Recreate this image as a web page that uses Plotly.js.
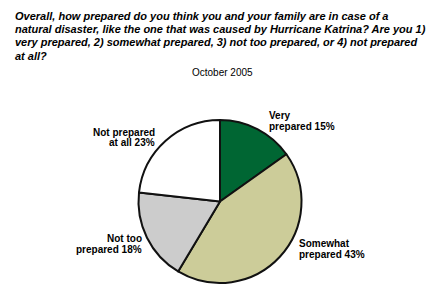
<!DOCTYPE html>
<html><head><meta charset="utf-8">
<script src="https://cdn.plot.ly/plotly-3.0.1.min.js"></script>
<style>html,body{margin:0;padding:0;background:#fff}</style>
</head><body><div id="chart" style="width:440px;height:293px"></div>
<script>
const categories = ["Very prepared", "Somewhat prepared", "Not too prepared", "Not prepared at all"];
const values = [15, 43, 18, 23];
const labelLines = [["Very", "prepared 15%"], ["Somewhat", "prepared 43%"], ["Not too", "prepared 18%"], ["Not prepared", "at all 23%"]];
const colors = ["#006633", "#CCCC99", "#CCCCCC", "#FFFFFF"];
const titleLines = [
  "Overall, how prepared do you think you and your family are in case of a",
  "natural disaster, like the one that was caused by Hurricane Katrina? Are you 1)",
  "very prepared, 2) somewhat prepared, 3) not too prepared, or 4) not prepared",
  "at all?"
];
const subtitle = "October 2005";

const W = 440, H = 293;
const px = x => x / W, py = y => 1 - y / H;
const F = "Liberation Sans, Arial, sans-serif";

const labelPos = [
  {x: 267, y: 115.5, anchor: "left"},
  {x: 297, y: 243, anchor: "left"},
  {x: 144, y: 238, anchor: "right"},
  {x: 157, y: 132, anchor: "right"}
];

const annotations = [];
titleLines.forEach((t, i) => {
  annotations.push({text: "<b><i>" + t + "</i></b>", x: px(13), y: py(15.5 + i * 13.4), xref: "paper", yref: "paper",
    xanchor: "left", yanchor: "middle", align: "left", showarrow: false,
    font: {family: F, size: 11, color: "#000"}});
});
annotations.push({text: subtitle, x: px(222), y: py(72.5), xref: "paper", yref: "paper",
  xanchor: "center", yanchor: "middle", showarrow: false, font: {family: F, size: 10, color: "#000"}});
labelLines.forEach((lines, i) => {
  const p = labelPos[i];
  lines.forEach((t, j) => {
    annotations.push({text: "<b>" + t + "</b>", x: px(p.x), y: py(p.y + j * 11), xref: "paper", yref: "paper",
      xanchor: p.anchor, yanchor: "middle", align: p.anchor, showarrow: false,
      font: {family: F, size: 10, color: "#000"}});
  });
});

const cx = 220, cy = 201.5, r = 81.5;
Plotly.newPlot("chart", [{
  type: "pie", labels: categories, values: values, sort: false, direction: "clockwise", rotation: 0,
  marker: {colors: colors, line: {color: "#111", width: 2}},
  textinfo: "none", hoverinfo: "none",
  domain: {x: [px(cx - r), px(cx + r)], y: [py(cy + r), py(cy - r)]}
}], {
  width: W, height: H, margin: {l: 0, r: 0, t: 0, b: 0},
  showlegend: false, paper_bgcolor: "#fff", annotations: annotations
}, {staticPlot: true});
</script></body></html>
